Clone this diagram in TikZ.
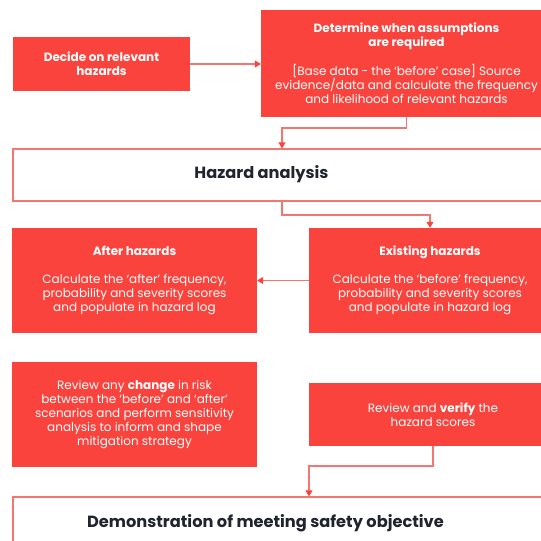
\documentclass[tikz,border=0pt]{standalone}
\usepackage{fontspec}
\setmainfont{Poppins}
\usetikzlibrary{arrows.meta,positioning,calc}
\definecolor{hzred}{RGB}{249,67,60}
\definecolor{hzline}{RGB}{245,118,113}
\definecolor{hzink}{RGB}{32,36,46}

\begin{document}
\begin{tikzpicture}[x=1pt,y=-1pt,
  redbox/.style={rectangle,fill=hzred,draw=none,text=white,align=center,inner sep=0pt,font=\fontsize{12}{14}\selectfont},
  linebox/.style={rectangle,draw=hzline,line width=1.2pt,fill=white,inner sep=0pt},
  boxtitle/.style={font=\bfseries\fontsize{16.2}{18}\selectfont,text=hzink},
  flow/.style={draw=hzline,line width=1.2pt,-{Triangle[length=6pt,width=7pt,color=hzred,fill=hzred]}}]

 \useasboundingbox (0,0) rectangle (541,541);
 \clip (0,0) rectangle (541,541);

 % ---- top row ----
 \node[redbox,minimum width=177pt,minimum height=54pt] (decide) at (101.5,64)
   {\textbf{Decide on relevant}\\\textbf{hazards}};
 \node[redbox,minimum width=291pt,minimum height=107pt] (determine) at (406.5,63.5)
   {\textbf{Determine when assumptions}\\\textbf{are required}\\[14pt]
    [Base data - the `before' case] Source\\evidence/data and calculate the frequency\\and likelihood of relevant hazards};
 \draw[flow] (decide.east) -- (decide.east -| determine.west);

 % ---- hazard analysis ----
 \node[linebox,minimum width=547pt,minimum height=52pt] (hazard) at (286.5,175) {};
 \node[boxtitle] (hazardlbl) at (261.5,174) {Hazard analysis};
 \coordinate (b1) at (282,128);
 \draw[flow] (determine.south) |- (b1) -- (b1 |- hazard.north);

 % ---- before / after ----
 \node[redbox,minimum width=245pt,minimum height=105pt] (after) at (134.5,280.5)
   {\textbf{After hazards}\\[14pt]Calculate the `after' frequency,\\probability and severity scores\\and populate in hazard log};
 \node[redbox,minimum width=242pt,minimum height=105pt] (existing) at (430,280.5)
   {\textbf{Existing hazards}\\[14pt]Calculate the `before' frequency,\\probability and severity scores\\and populate in hazard log};
 \coordinate (b2) at (282,215);
 \draw[flow] (b2 |- hazard.south) -- (b2) -| (existing.north);
 \draw[flow] (existing.west) -- (after.east);

 % ---- reviews ----
 \node[redbox,minimum width=245pt,minimum height=105pt] (change) at (134.5,414.5)
   {Review any \textbf{change} in risk\\between the `before' and `after'\\scenarios and perform sensitivity\\analysis to inform and shape\\mitigation strategy};
 \node[redbox,minimum width=248pt,minimum height=63pt] (verify) at (433,414.5)
   {Review and \textbf{verify} the\\hazard scores};

 % ---- demonstration ----
 \node[linebox,minimum width=547pt,minimum height=83pt] (demo) at (286.5,538.5) {};
 \node[boxtitle] (demolbl) at (265.5,523) {Demonstration of meeting safety objective};
 \coordinate (b3) at (309,466);
 \draw[flow] (verify.south) |- (b3) -- (b3 |- demo.north);
\end{tikzpicture}
\end{document}
